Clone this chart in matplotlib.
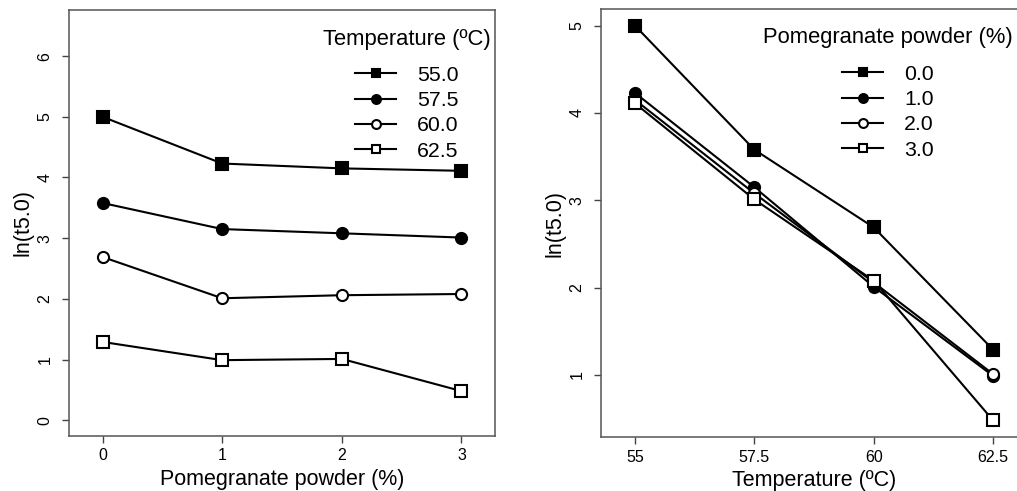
import numpy as np
import matplotlib
matplotlib.use("Agg")
import matplotlib.pyplot as plt

plt.rcParams['font.family'] = ['Liberation Sans', 'DejaVu Sans']

# data: ln(t5.0) by powder level and temperature
powder = [0, 1, 2, 3]
temps = [55.0, 57.5, 60.0, 62.5]
t550 = [5.00, 4.23, 4.15, 4.11]
t575 = [3.58, 3.15, 3.08, 3.01]
t600 = [2.69, 2.01, 2.06, 2.08]
t625 = [1.29, 0.99, 1.01, 0.48]

temp_labels = ['55.0', '57.5', '60.0', '62.5']
powder_labels = ['0.0', '1.0', '2.0', '3.0']
temp_ticklabels = ['55', '57.5', '60', '62.5']

series = [t550, t575, t600, t625]
# marker style: (marker, filled)
styles = [('s', True), ('o', True), ('o', False), ('s', False)]

fig = plt.figure(figsize=(10.17, 4.91), dpi=100)
ax1 = fig.add_axes([69/1017, 1-436/491, 426/1017, 426/491])
ax2 = fig.add_axes([601/1017, 1-437/491, 426/1017, 428/491])

def style_axes(ax):
    for s in ax.spines.values():
        s.set_color('#555555')
        s.set_linewidth(1.1)
    ax.tick_params(axis='both', direction='out', length=5, width=1.0,
                   color='#444444', labelsize=11.5)
    ax.tick_params(axis='y', pad=7)
    ax.tick_params(axis='x', pad=4)
    for lab in ax.get_yticklabels():
        lab.set_rotation(90)
        lab.set_va('center')

def draw(ax, x, ys, labels):
    for y, lab, (m, filled) in zip(ys, labels, styles):
        ax.plot(x, y, color='black', lw=1.5, marker=m, markersize=8,
                markeredgewidth=1.5, markeredgecolor='black',
                markerfacecolor='black' if filled else 'white', label=lab)

def add_legend(ax, title, cx, title_y, top_y):
    fig.text(cx/1017, 1-title_y/491, title, fontsize=15.8,
             ha='center', va='center')
    ax.legend(frameon=False, fontsize=15.3, loc='upper center',
              bbox_to_anchor=(cx/1017, 1-top_y/491),
              bbox_transform=fig.transFigure, handlelength=1.9,
              handletextpad=1.0, labelspacing=0.3, markerscale=0.8,
              borderpad=0)

# left: ln(t5.0) vs powder, one line per temperature
draw(ax1, powder, series, temp_labels)
ax1.set_xlim(-0.28, 3.28)
ax1.set_ylim(-0.26, 6.76)
ax1.set_xticks(powder)
ax1.set_yticks(range(0, 7))
ax1.set_xlabel('Pomegranate powder (%)', fontsize=15.5, labelpad=4)
ax1.set_ylabel('ln(t5.0)', fontsize=15.5, labelpad=3)
style_axes(ax1)
add_legend(ax1, 'Temperature (ºC)', 407, 39, 55)

# right: ln(t5.0) vs temperature, one line per powder level
by_powder = np.array(series).T
draw(ax2, temps, by_powder, powder_labels)
ax2.set_xlim(54.29, 63.21)
ax2.set_ylim(0.29, 5.19)
ax2.set_xticks(temps)
ax2.set_xticklabels(temp_ticklabels)
ax2.set_yticks(range(1, 6))
ax2.set_xlabel('Temperature (ºC)', fontsize=15.5, labelpad=4)
ax2.set_ylabel('ln(t5.0)', fontsize=15.5, labelpad=3)
style_axes(ax2)
add_legend(ax2, 'Pomegranate powder (%)', 888, 38, 54)

fig.savefig('out.png', dpi=100)
